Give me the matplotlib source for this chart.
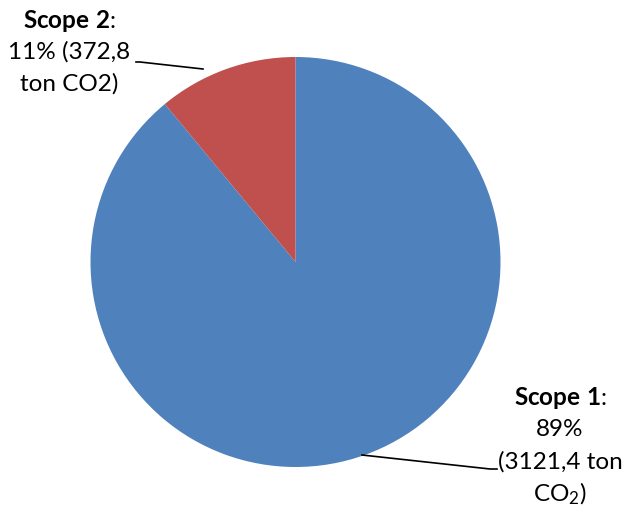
import matplotlib
matplotlib.use("Agg")
import matplotlib.pyplot as plt
import numpy as np

labels = ["Scope 1", "Scope 2"]
shares = [89, 11]
tons = ["3121,4", "372,8"]
colors = ["#4F81BD", "#C0504D"]

plt.rcParams["mathtext.fontset"] = "custom"
plt.rcParams["mathtext.rm"] = "Lato"
plt.rcParams["mathtext.bf"] = "Lato:bold"
plt.rcParams["mathtext.it"] = "Lato:italic"

W, H = 625, 514
fig = plt.figure(figsize=(W / 100, H / 100), dpi=100)
cx, cy, r = 295.5, 262, 205
ax = fig.add_axes([(cx - r) / W, (H - cy - r) / H, 2 * r / W, 2 * r / H])
wedges, _ = ax.pie(shares, colors=colors, startangle=90, counterclock=False, radius=1.0,
                   wedgeprops=dict(linewidth=0))
ax.set_xlim(-1, 1)
ax.set_ylim(-1, 1)
ax.set_aspect("equal")
ax.axis("off")

fam = ["Lato", "DejaVu Sans"]
fs = 17.5

def px(x, y):
    return x / W, 1 - y / H

def bold(s):
    return r"$\bf{" + s.replace(" ", r"\ ") + "}$:"

# Scope 2 label
tx = 69
fig.text(*px(tx, 21), bold(labels[1]), ha="center", va="center", fontsize=fs, family=fam)
fig.text(*px(tx, 52), f"{shares[1]}% ({tons[1]}", ha="center", va="center", fontsize=fs, family=fam)
fig.text(*px(tx, 84), "ton CO2)", ha="center", va="center", fontsize=fs, family=fam)

# Scope 1 label
sx = 560
fig.text(*px(sx, 398), bold(labels[0]), ha="center", va="center", fontsize=fs, family=fam)
fig.text(*px(sx, 430), f"{shares[0]}%", ha="center", va="center", fontsize=fs, family=fam)
fig.text(*px(sx, 462), f"({tons[0]} ton", ha="center", va="center", fontsize=fs, family=fam)
fig.text(*px(sx, 494), r"CO$_2$)", ha="center", va="center", fontsize=fs, family=fam)

def leader(pts):
    xs = [p[0] / W for p in pts]
    ys = [1 - p[1] / H for p in pts]
    fig.add_artist(plt.Line2D(xs, ys, color="black", lw=1.2, transform=fig.transFigure))

leader([(136, 62), (140, 62), (203, 69)])
leader([(362, 455), (490, 469), (497, 469)])

fig.savefig("out.png", dpi=100)
